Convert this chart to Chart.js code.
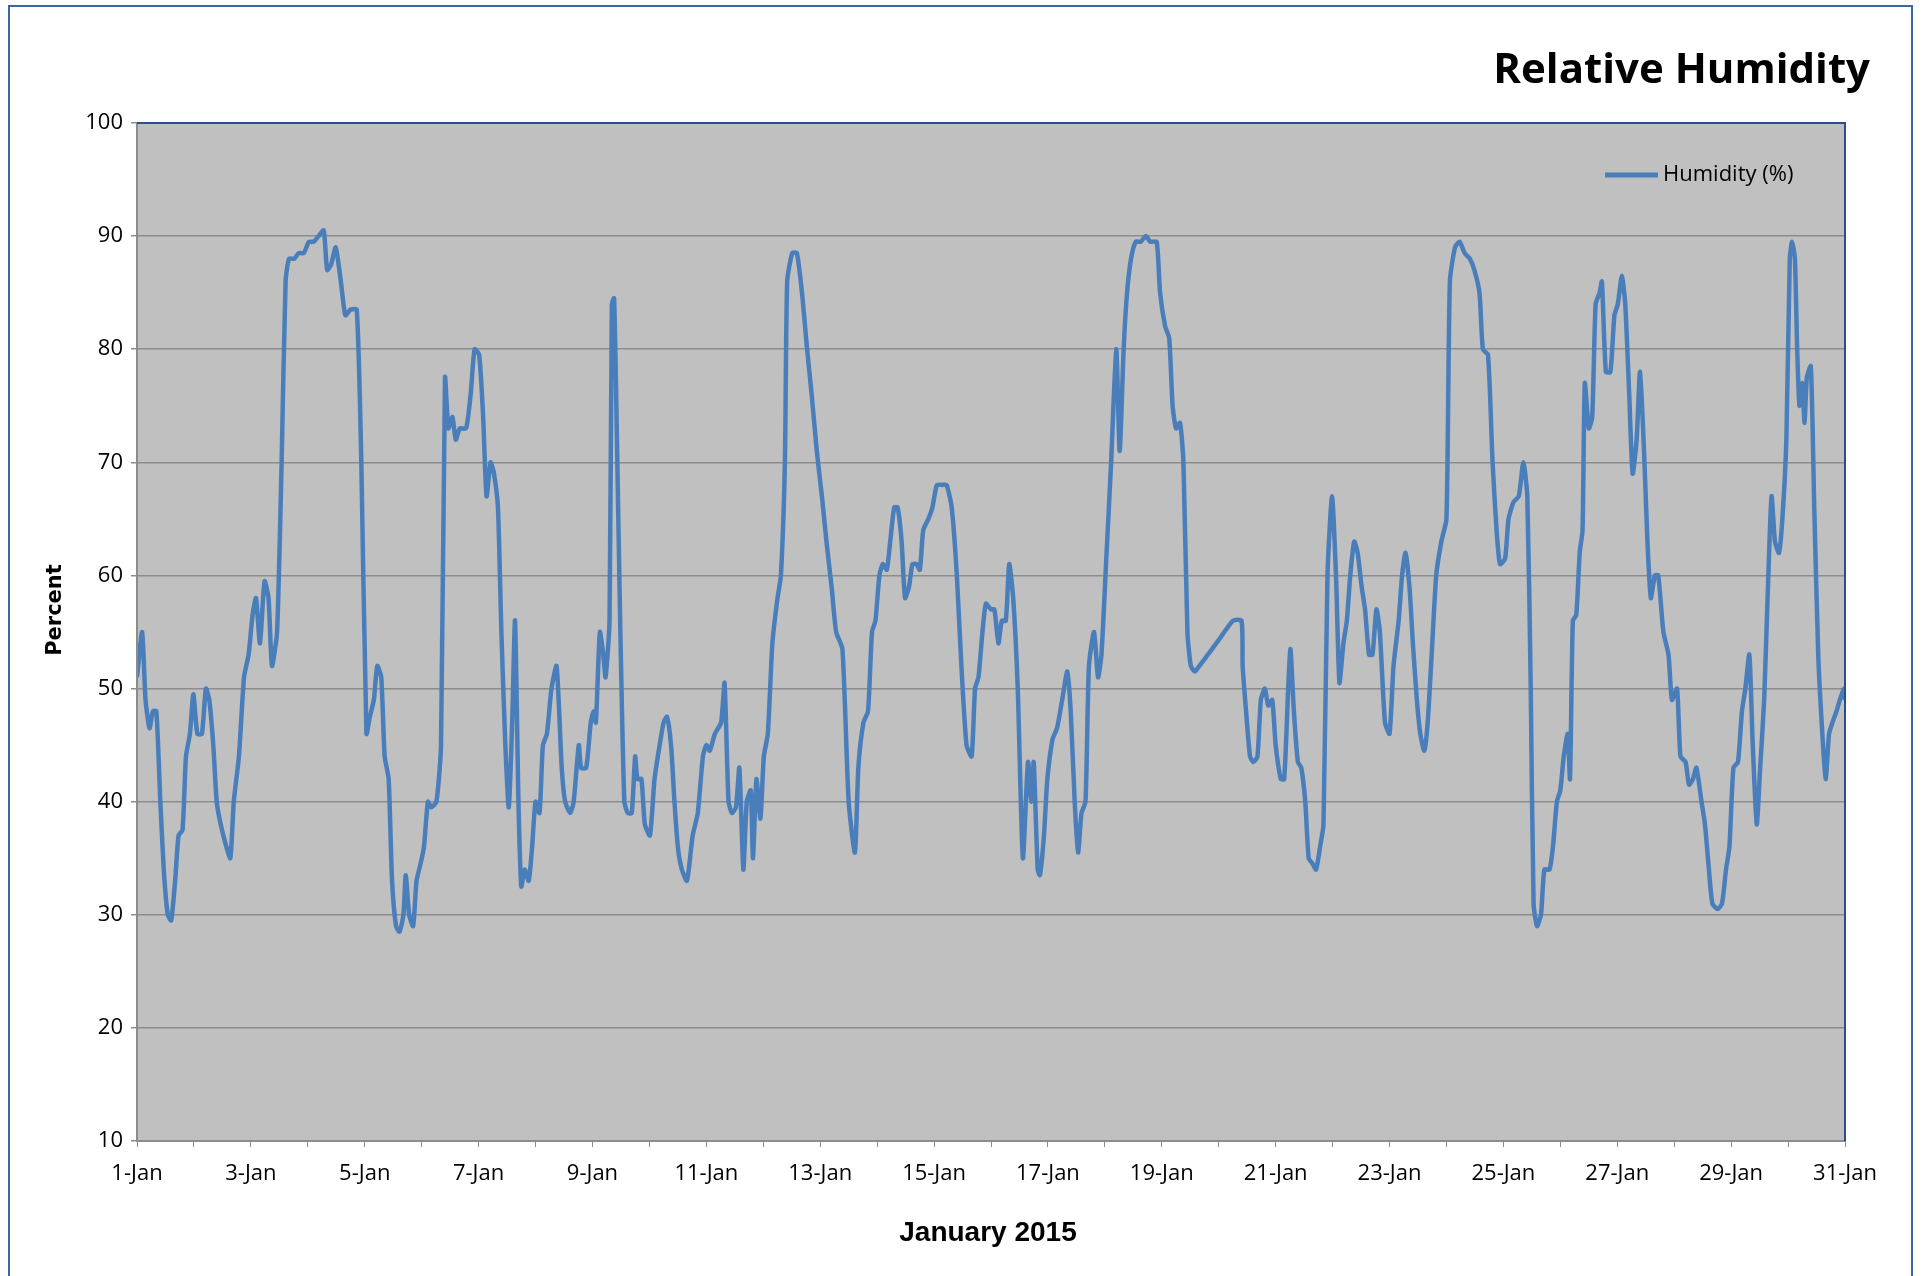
<!DOCTYPE html>
<html>
<head>
<meta charset="utf-8">
<script src="https://cdn.jsdelivr.net/npm/chart.js@4/dist/chart.umd.min.js"></script>
<style>
  html, body { margin: 0; padding: 0; background: #fff; }
  #wrap { position: absolute; left: 0; top: 0; width: 1923px; height: 1276px; }
  #frame { position: absolute; left: 8px; top: 5px; width: 1905px; height: 1280px; border: 2px solid #41659c; box-sizing: border-box; }
  canvas { position: absolute; left: 0; top: 0; }
</style>
</head>
<body>
<div id="wrap">
  <div id="frame"></div>
  <canvas id="humChart" width="1923" height="1276"></canvas>
</div>
<script>
// tick labels for every second day, 1-Jan .. 31-Jan
const dayLabels = ['1-Jan', '3-Jan', '5-Jan', '7-Jan', '9-Jan', '11-Jan', '13-Jan', '15-Jan',
  '17-Jan', '19-Jan', '21-Jan', '23-Jan', '25-Jan', '27-Jan', '29-Jan', '31-Jan'];

// time of reading, days since 1-Jan 00:00
const readingDays = [
  0, .09, .15, .22, .28, .34, .41, .47, .54, .60, .67, .73, .80, .86, .93, .99, 1.06, 1.14, 1.21, 1.27,
  1.34, 1.40, 1.47, 1.57, 1.64, 1.70, 1.79, 1.88, 1.96, 2.03, 2.09, 2.16, 2.24, 2.31, 2.37, 2.46, 2.54, 2.61, 2.67, 2.76,
  2.84, 2.93, 3.02, 3.10, 3.19, 3.28, 3.34, 3.41, 3.49, 3.58, 3.66, 3.75, 3.86, 3.94, 4.03, 4.09, 4.16, 4.22, 4.29, 4.35,
  4.42, 4.48, 4.55, 4.61, 4.68, 4.72, 4.78, 4.85, 4.91, 4.98, 5.04, 5.11, 5.17, 5.26, 5.34, 5.41, 5.47, 5.54, 5.60, 5.67,
  5.78, 5.86, 5.93, 6.01, 6.08, 6.14, 6.21, 6.27, 6.34, 6.40, 6.47, 6.53, 6.59, 6.64, 6.70, 6.75, 6.81, 6.88, 6.94, 7.00,
  7.07, 7.13, 7.20, 7.28, 7.37, 7.46, 7.52, 7.61, 7.67, 7.76, 7.80, 7.89, 7.97, 8.02, 8.06, 8.13, 8.19, 8.23, 8.30, 8.34,
  8.38, 8.43, 8.49, 8.56, 8.62, 8.69, 8.75, 8.79, 8.86, 8.92, 9.01, 9.09, 9.18, 9.25, 9.31, 9.38, 9.44, 9.50, 9.57, 9.66,
  9.76, 9.85, 9.94, 10.0, 10.06, 10.15, 10.26, 10.32, 10.39, 10.45, 10.52, 10.58, 10.65, 10.71, 10.78, 10.82, 10.88, 10.95, 11.01, 11.08,
  11.16, 11.25, 11.31, 11.38, 11.42, 11.51, 11.59, 11.68, 11.77, 11.85, 11.94, 12.03, 12.11, 12.20, 12.28, 12.39, 12.50, 12.61, 12.67, 12.76,
  12.84, 12.91, 12.97, 13.04, 13.10, 13.17, 13.23, 13.30, 13.36, 13.43, 13.49, 13.56, 13.62, 13.69, 13.75, 13.81, 13.90, 13.97, 14.05, 14.14,
  14.22, 14.31, 14.40, 14.48, 14.57, 14.66, 14.72, 14.78, 14.85, 14.91, 15.0, 15.06, 15.13, 15.19, 15.26, 15.32, 15.39, 15.47, 15.56, 15.65,
  15.71, 15.75, 15.82, 15.86, 15.93, 15.99, 16.08, 16.16, 16.25, 16.34, 16.40, 16.47, 16.53, 16.59, 16.66, 16.72, 16.81, 16.88, 16.94, 17.03,
  17.11, 17.20, 17.26, 17.33, 17.39, 17.46, 17.54, 17.63, 17.72, 17.80, 17.91, 17.97, 18.06, 18.13, 18.19, 18.25, 18.32, 18.38, 18.45, 18.51,
  18.58, 18.66, 18.81, 19.03, 19.25, 19.40, 19.42, 19.48, 19.55, 19.61, 19.68, 19.74, 19.81, 19.87, 19.94, 20.0, 20.09, 20.15, 20.22, 20.26,
  20.32, 20.39, 20.45, 20.52, 20.58, 20.65, 20.71, 20.78, 20.84, 20.91, 20.99, 21.06, 21.12, 21.19, 21.25, 21.31, 21.38, 21.44, 21.51, 21.57,
  21.64, 21.70, 21.77, 21.83, 21.92, 22.0, 22.07, 22.16, 22.22, 22.28, 22.35, 22.41, 22.48, 22.54, 22.61, 22.67, 22.74, 22.82, 22.91, 23.0,
  23.06, 23.15, 23.23, 23.32, 23.41, 23.49, 23.58, 23.64, 23.73, 23.81, 23.88, 23.94, 24.03, 24.09, 24.18, 24.27, 24.35, 24.42, 24.48, 24.53,
  24.59, 24.66, 24.72, 24.81, 24.87, 24.94, 25.0, 25.06, 25.13, 25.17, 25.22, 25.28, 25.34, 25.39, 25.43, 25.50, 25.56, 25.62, 25.69, 25.73,
  25.80, 25.88, 25.95, 26.01, 26.08, 26.14, 26.21, 26.27, 26.34, 26.40, 26.47, 26.53, 26.59, 26.66, 26.72, 26.81, 26.90, 26.96, 27.05, 27.11,
  27.20, 27.26, 27.33, 27.39, 27.48, 27.54, 27.61, 27.67, 27.76, 27.84, 27.91, 27.97, 28.04, 28.12, 28.19, 28.25, 28.32, 28.38, 28.45, 28.51,
  28.58, 28.64, 28.71, 28.77, 28.84, 28.90, 28.97, 29.03, 29.07, 29.12, 29.16, 29.20, 29.25, 29.29, 29.33, 29.40, 29.46, 29.53, 29.59, 29.66,
  29.72, 29.78, 29.85, 29.91, 29.98, 30.0
];

// relative humidity (%)
const humidity = [
  51, 55, 49, 46.5, 48, 48, 40, 34, 30, 29.5, 33, 37, 37.5, 44, 46, 49.5, 46, 46, 50, 49,
  45, 40, 38, 36, 35, 40, 44, 51, 53, 56.5, 58, 54, 59.5, 58, 52, 55, 70, 86, 88, 88,
  88.5, 88.5, 89.5, 89.5, 90, 90.5, 87, 87.5, 89, 86, 83, 83.5, 83.5, 70, 46, 47.5, 49, 52, 51, 44,
  42, 33, 29, 28.5, 30, 33.5, 30, 29, 33, 34.5, 36, 40, 39.5, 40, 45, 77.5, 73, 74, 72, 73,
  73, 76, 80, 79.5, 74, 67, 70, 69, 66, 55, 45, 39.5, 47, 56, 40, 32.5, 34, 33, 36, 40,
  39, 45, 46, 50, 52, 43, 40, 39, 40, 45, 43, 43, 47, 48, 47, 55, 53, 51, 56, 84,
  84.5, 72, 55, 40, 39, 39, 44, 42, 42, 38, 37, 42, 45, 47, 47.5, 45, 40, 36, 34, 33,
  37, 39, 44, 45, 44.5, 46, 47, 50.5, 40, 39, 39.5, 43, 34, 40, 41, 35, 42, 38.5, 44, 46,
  54, 58, 60, 70, 86, 88.5, 88.5, 85, 80, 76, 71, 67, 63, 59, 55, 53.5, 40, 35.5, 43, 47,
  48, 55, 56, 60, 61, 60.5, 63, 66, 66, 63, 58, 59, 61, 61, 60.5, 64, 65, 66, 68, 68,
  68, 66, 60, 52, 45, 44, 50, 51, 55, 57.5, 57, 57, 54, 56, 56, 61, 58, 50, 35, 43.5,
  40, 43.5, 34, 33.5, 37, 42, 45.5, 46.5, 49, 51.5, 48, 40, 35.5, 39, 40, 52, 55, 51, 53, 62,
  70, 80, 71, 80, 85, 88, 89.5, 89.5, 90, 89.5, 89.5, 85, 82, 81, 75, 73, 73.5, 70, 55, 52,
  51.5, 52, 53, 54.5, 56, 56, 52, 48, 44, 43.5, 44, 49, 50, 48.5, 49, 45, 42, 42, 50, 53.5,
  48, 43.5, 43, 40, 35, 34.5, 34, 36, 38, 60, 67, 60, 50.5, 54, 56, 60, 63, 62, 59, 57,
  53, 53, 57, 55, 47, 46, 52, 56, 60, 62, 59, 54, 49, 46, 44.5, 47, 53, 60, 63, 65,
  86, 89, 89.5, 88.5, 88, 87, 85, 80, 79.5, 70, 64, 61, 61.5, 65, 66.5, 67, 70, 67, 50, 31,
  29, 30, 34, 34, 36, 40, 41, 44, 46, 42, 56, 56.5, 62, 64, 77, 73, 74, 84, 85, 86,
  78, 78, 83, 84, 86.5, 84, 76, 69, 72, 78, 71, 63, 58, 60, 60, 55, 53, 49, 50, 44,
  43.5, 41.5, 42, 43, 40, 38, 34, 31, 30.5, 31, 34, 36, 43, 43.5, 48, 50, 53, 45, 38, 43,
  49, 58, 67, 63, 62, 65, 72, 88, 89.5, 88, 80, 75, 77, 73.5, 77.5, 78.5, 66, 53, 47, 42,
  46, 47, 48, 49, 50, 49
];

const FONT = '"Liberation Sans Narrow", "Open Sans", "Noto Sans", sans-serif';
const LINE_COLOR = '#4a7ebb';

const points = readingDays.map((d, i) => ({ x: d, y: humidity[i] }));

// plot background, frame, title, axis titles and legend
const decor = {
  id: 'decor',
  beforeDraw(chart) {
    const { ctx, chartArea: a } = chart;
    ctx.save();
    ctx.fillStyle = '#c0c0c0';
    ctx.fillRect(a.left, a.top, a.right - a.left, a.bottom - a.top);
    ctx.restore();
  },
  afterDraw(chart) {
    const { ctx, chartArea: a } = chart;
    ctx.save();
    ctx.strokeStyle = '#8c8c8c';
    ctx.lineWidth = 2;
    ctx.beginPath();
    ctx.moveTo(a.left, a.top); ctx.lineTo(a.left, a.bottom); ctx.lineTo(a.right, a.bottom);
    ctx.stroke();
    ctx.strokeStyle = '#2b4f8a';
    ctx.beginPath();
    ctx.moveTo(a.left, a.top); ctx.lineTo(a.right, a.top); ctx.lineTo(a.right, a.bottom);
    ctx.stroke();

    ctx.fillStyle = '#000';
    ctx.textAlign = 'right';
    ctx.textBaseline = 'middle';
    ctx.font = 'bold 42px ' + FONT;
    ctx.fillText('Relative Humidity', 1870, 71);

    ctx.textAlign = 'center';
    ctx.font = 'bold 28px "Liberation Sans", Arial, sans-serif';
    ctx.fillText('January 2015', 988, 1233);

    ctx.save();
    ctx.translate(56, 610);
    ctx.rotate(-Math.PI / 2);
    ctx.font = 'bold 21px "DejaVu Sans", sans-serif';
    ctx.fillText('Percent', 0, 0);
    ctx.restore();

    ctx.strokeStyle = LINE_COLOR;
    ctx.lineWidth = 5;
    ctx.beginPath();
    ctx.moveTo(1605, 175); ctx.lineTo(1658, 175);
    ctx.stroke();
    ctx.textAlign = 'left';
    ctx.font = '22px ' + FONT;
    ctx.fillText('Humidity (%)', 1663, 175);
    ctx.restore();
  }
};

new Chart(document.getElementById('humChart').getContext('2d'), {
  type: 'line',
  data: {
    datasets: [{
      label: 'Humidity (%)',
      data: points,
      borderColor: LINE_COLOR,
      borderWidth: 4.5,
      pointRadius: 0,
      tension: 0.2,
      fill: false
    }]
  },
  options: {
    responsive: false,
    animation: false,
    layout: { padding: { left: 30, top: 123, right: 78, bottom: 0 } },
    plugins: { legend: { display: false }, title: { display: false }, tooltip: { enabled: false } },
    scales: {
      x: {
        type: 'linear',
        min: 0,
        max: 30,
        afterBuildTicks(scale) {
          scale.ticks = [];
          for (let d = 0; d <= 30; d++) scale.ticks.push({ value: d });
        },
        afterFit(scale) { scale.height = 1276 - 1141; },
        grid: { drawOnChartArea: false, color: '#8c8c8c', tickLength: 6 },
        border: { display: false },
        ticks: {
          autoSkip: false,
          maxRotation: 0,
          padding: 14,
          color: '#000',
          font: { family: FONT, size: 22 },
          callback: (v) => (v % 2 === 0 ? dayLabels[v / 2] : '')
        }
      },
      y: {
        min: 10,
        max: 100,
        afterFit(scale) { scale.width = 107; },
        grid: { color: '#8c8c8c', lineWidth: 1.5, tickLength: 6 },
        border: { display: false },
        ticks: {
          stepSize: 10,
          padding: 8,
          color: '#000',
          font: { family: FONT, size: 22 }
        }
      }
    }
  },
  plugins: [decor]
});
</script>
</body>
</html>
